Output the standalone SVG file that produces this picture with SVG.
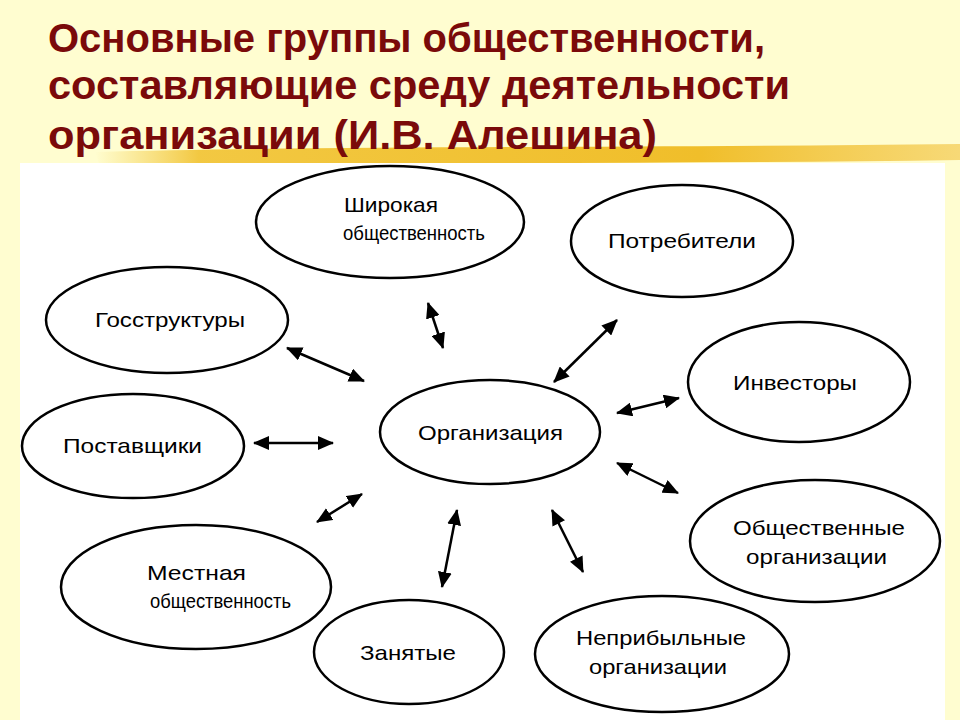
<svg xmlns="http://www.w3.org/2000/svg" width="960" height="720" viewBox="0 0 960 720">
<defs>
<linearGradient id="brush" x1="0" y1="0" x2="1" y2="0">
<stop offset="0" stop-color="#F3C93A" stop-opacity="0"/>
<stop offset="0.12" stop-color="#F1C232" stop-opacity="0.9"/>
<stop offset="0.7" stop-color="#F0BE2A"/>
<stop offset="1" stop-color="#F5D060" stop-opacity="0.8"/>
</linearGradient>
<marker id="ah" viewBox="0 0 16 14" refX="15" refY="7" markerWidth="16" markerHeight="14" markerUnits="userSpaceOnUse" orient="auto-start-reverse">
<path d="M0,0 L16,7 L0,14 Z" fill="#000"/>
</marker>
</defs>
<style>
.title{font-family:"Liberation Sans Narrow","Liberation Sans",Arial,sans-serif;font-weight:bold;font-size:41px;fill:#7A0A0A}
.node ellipse{fill:#fff;stroke:#000;stroke-width:2.5}
.node text{font-family:"Liberation Sans",Arial,sans-serif;font-size:21px;fill:#000}
.conn line{stroke:#000;stroke-width:2.5;marker-start:url(#ah);marker-end:url(#ah)}
</style>
<rect width="960" height="720" fill="#FFFDD0"/>
<path d="M95,152 C300,146 600,148 960,144 L960,160 C700,164 400,162 100,166 Z" fill="url(#brush)"/>
<rect x="20" y="163" width="925" height="557" fill="#fff"/>
<g id="title">
<text class="title" x="48" y="52" textLength="717" lengthAdjust="spacingAndGlyphs">Основные группы общественности,</text>
<text class="title" x="48" y="99" textLength="742" lengthAdjust="spacingAndGlyphs">составляющие среду деятельности</text>
<text class="title" x="48" y="149" textLength="609" lengthAdjust="spacingAndGlyphs">организации (И.В. Алешина)</text>
</g>
<g id="connectors" class="conn">
<line x1="287" y1="348" x2="364" y2="381"/>
<line x1="428" y1="303" x2="443" y2="348"/>
<line x1="617" y1="320" x2="554" y2="382"/>
<line x1="617" y1="413" x2="679" y2="398"/>
<line x1="254" y1="443" x2="333" y2="443"/>
<line x1="617" y1="463" x2="678" y2="493"/>
<line x1="362" y1="494" x2="317" y2="522"/>
<line x1="457" y1="510" x2="442" y2="587"/>
<line x1="552" y1="510" x2="583" y2="572"/>
</g>
<g id="n-shirokaya" class="node">
<ellipse cx="390" cy="222" rx="134" ry="56"/>
<text x="344" y="212" textLength="94" lengthAdjust="spacingAndGlyphs">Широкая</text>
<text x="343" y="240" textLength="142" lengthAdjust="spacingAndGlyphs">общественность</text>
</g>
<g id="n-potrebiteli" class="node">
<ellipse cx="682" cy="241" rx="111" ry="56"/>
<text x="608" y="248" textLength="148" lengthAdjust="spacingAndGlyphs">Потребители</text>
</g>
<g id="n-gosstruktury" class="node">
<ellipse cx="167" cy="320" rx="121" ry="53"/>
<text x="95" y="327" textLength="150" lengthAdjust="spacingAndGlyphs">Госструктуры</text>
</g>
<g id="n-investory" class="node">
<ellipse cx="799" cy="382" rx="111" ry="60"/>
<text x="733" y="390" textLength="124" lengthAdjust="spacingAndGlyphs">Инвесторы</text>
</g>
<g id="n-organizaciya" class="node">
<ellipse cx="490" cy="432" rx="110" ry="52"/>
<text x="418" y="440" textLength="145" lengthAdjust="spacingAndGlyphs">Организация</text>
</g>
<g id="n-postavshiki" class="node">
<ellipse cx="133" cy="446" rx="111" ry="52"/>
<text x="63" y="453" textLength="139" lengthAdjust="spacingAndGlyphs">Поставщики</text>
</g>
<g id="n-obshch-org" class="node">
<ellipse cx="815" cy="541" rx="125" ry="61"/>
<text x="733" y="535" textLength="172" lengthAdjust="spacingAndGlyphs">Общественные</text>
<text x="746" y="564" textLength="141" lengthAdjust="spacingAndGlyphs">организации</text>
</g>
<g id="n-mestnaya" class="node">
<ellipse cx="196" cy="587" rx="135" ry="62"/>
<text x="147" y="580" textLength="99" lengthAdjust="spacingAndGlyphs">Местная</text>
<text x="150" y="608" textLength="141" lengthAdjust="spacingAndGlyphs">общественность</text>
</g>
<g id="n-zanyatye" class="node">
<ellipse cx="409" cy="652" rx="95" ry="52"/>
<text x="360" y="660" textLength="96" lengthAdjust="spacingAndGlyphs">Занятые</text>
</g>
<g id="n-nepribylnye" class="node">
<ellipse cx="662" cy="654" rx="127" ry="58"/>
<text x="576" y="645" textLength="170" lengthAdjust="spacingAndGlyphs">Неприбыльные</text>
<text x="589" y="674" textLength="138" lengthAdjust="spacingAndGlyphs">организации</text>
</g>
</svg>
